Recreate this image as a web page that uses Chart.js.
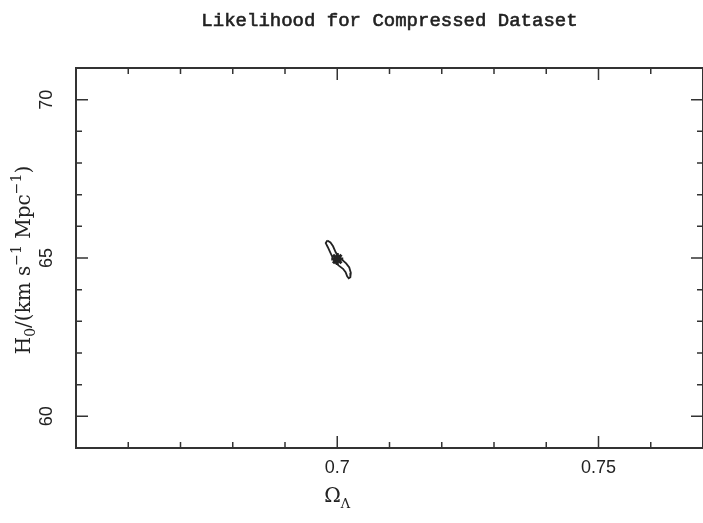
<!DOCTYPE html>
<html>
<head>
<meta charset="utf-8">
<script src="https://cdn.jsdelivr.net/npm/chart.js@4"></script>
<style>
  html, body { margin: 0; padding: 0; background: #fff; overflow: hidden; }
  #wrap { width: 703px; height: 523px; overflow: hidden; }
</style>
</head>
<body>
<div id="wrap"><canvas id="likeChart" width="712" height="523"></canvas></div>
<script>
// likelihood contour, Omega_Lambda vs H0
const xRange = [0.65, 0.77];
const yRange = [59, 71];
const xMajor = [0.7, 0.75];
const xMajorLabels = ["0.7", "0.75"];
const xMinor = [0.66, 0.67, 0.68, 0.69, 0.71, 0.72, 0.73, 0.74, 0.76];
const yMajor = [60, 65, 70];
const yMajorLabels = ["60", "65", "70"];
const yMinor = [61, 62, 63, 64, 66, 67, 68, 69];

// contour outline (closed)
const contourX = [0.6981, 0.6987, 0.6992, 0.6997, 0.7003, 0.7009, 0.7017, 0.7023, 0.7026, 0.7025,
                  0.7022, 0.7019, 0.7016, 0.7011, 0.7003, 0.6996, 0.6992, 0.6987, 0.6982, 0.6978, 0.6981];
const contourY = [65.55, 65.49, 65.37, 65.18, 65.05, 64.95, 64.83, 64.70, 64.53, 64.39,
                  64.36, 64.42, 64.55, 64.66, 64.76, 64.86, 64.99, 65.16, 65.34, 65.47, 65.55];
const bestX = [0.700];
const bestY = [64.97];

const titleText = "Likelihood for Compressed Dataset";
const ink = "#222";

const frame = {
  id: "frame",
  afterDraw(chart) {
    const ctx = chart.ctx;
    const { left, right, top, bottom } = chart.chartArea;
    const xs = chart.scales.x, ys = chart.scales.y;
    ctx.save();
    ctx.strokeStyle = "#333";
    ctx.lineWidth = 2;
    ctx.strokeRect(left, top, right - left, bottom - top);
    ctx.lineWidth = 1.5;
    const tick = (v, len, horiz) => {
      ctx.beginPath();
      if (horiz) {
        const p = xs.getPixelForValue(v);
        ctx.moveTo(p, bottom); ctx.lineTo(p, bottom - len);
        ctx.moveTo(p, top); ctx.lineTo(p, top + len);
      } else {
        const p = ys.getPixelForValue(v);
        ctx.moveTo(left, p); ctx.lineTo(left + len, p);
        ctx.moveTo(right, p); ctx.lineTo(right - len, p);
      }
      ctx.stroke();
    };
    xMajor.forEach(v => tick(v, 12, true));
    xMinor.forEach(v => tick(v, 6, true));
    yMajor.forEach(v => tick(v, 12, false));
    yMinor.forEach(v => tick(v, 6, false));

    ctx.fillStyle = ink;
    // x tick labels
    ctx.font = '18px "Liberation Sans"';
    ctx.textAlign = "center";
    ctx.textBaseline = "middle";
    xMajor.forEach((v, i) => ctx.fillText(xMajorLabels[i], xs.getPixelForValue(v), bottom + 20));
    // y tick labels, rotated
    yMajor.forEach((v, i) => {
      ctx.save();
      ctx.translate(left - 29, ys.getPixelForValue(v));
      ctx.rotate(-Math.PI / 2);
      ctx.fillText(yMajorLabels[i], 0, 0);
      ctx.restore();
    });

    // title
    ctx.font = '19px "Liberation Mono"';
    ctx.textBaseline = "alphabetic";
    ctx.strokeStyle = ink;
    ctx.lineWidth = 0.6;
    ctx.fillText(titleText, (left + right) / 2, 26);
    ctx.strokeText(titleText, (left + right) / 2, 26);

    // x axis title: Omega_Lambda
    const cx = xs.getPixelForValue(0.7);
    ctx.textAlign = "left";
    ctx.font = '20px "DejaVu Serif"';
    const wO = ctx.measureText("\u03A9").width;
    ctx.font = '13px "DejaVu Serif"';
    const wL = ctx.measureText("\u039B").width;
    const x0 = cx - (wO + wL) / 2;
    ctx.font = '20px "DejaVu Serif"';
    ctx.fillText("\u03A9", x0, 502);
    ctx.font = '13px "DejaVu Serif"';
    ctx.fillText("\u039B", x0 + wO, 508);

    // y axis title, rotated, built from pieces
    const parts = [
      ["H", 20, 0], ["0", 14, 5], ["/(km s", 20, 0], ["\u22121", 14, -9],
      [" Mpc", 20, 0], ["\u22121", 14, -9], [")", 20, 0]
    ];
    let total = 0;
    parts.forEach(p => { ctx.font = p[1] + 'px "DejaVu Serif"'; total += ctx.measureText(p[0]).width; });
    ctx.save();
    ctx.translate(30, ys.getPixelForValue(65) + 2);
    ctx.rotate(-Math.PI / 2);
    let pos = -total / 2;
    parts.forEach(p => {
      ctx.font = p[1] + 'px "DejaVu Serif"';
      ctx.fillText(p[0], pos, p[2]);
      pos += ctx.measureText(p[0]).width;
    });
    ctx.restore();
    ctx.restore();
  }
};

new Chart(document.getElementById("likeChart"), {
  type: "scatter",
  data: {
    datasets: [
      {
        label: "contour",
        data: contourX.map((x, i) => ({ x, y: contourY[i] })),
        showLine: true,
        borderColor: ink,
        borderWidth: 1.8,
        pointRadius: 0,
        tension: 0
      },
      {
        label: "best fit",
        data: bestX.map((x, i) => ({ x, y: bestY[i] })),
        pointStyle: "star",
        pointRadius: 6,
        borderColor: ink,
        borderWidth: 3,
        backgroundColor: ink
      }
    ]
  },
  options: {
    responsive: false,
    animation: false,
    layout: { padding: { left: 76, top: 68, right: 6, bottom: 75 } },
    scales: {
      x: { type: "linear", min: xRange[0], max: xRange[1], display: false },
      y: { type: "linear", min: yRange[0], max: yRange[1], display: false }
    },
    plugins: { legend: { display: false }, tooltip: { enabled: false }, title: { display: false } }
  },
  plugins: [frame]
});
</script>
</body>
</html>
